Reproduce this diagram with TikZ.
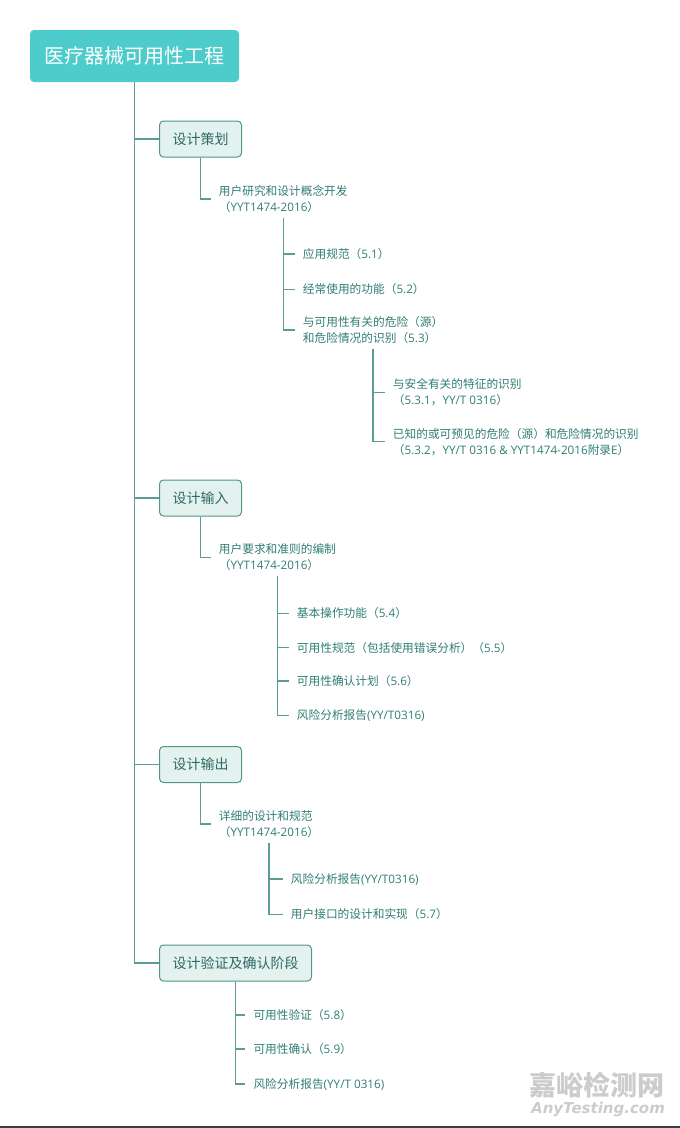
\documentclass[tikz,border=0pt]{standalone}
\usepackage{fontspec}
\setmainfont{Noto Sans CJK SC}
\newfontfamily\latinfont{Open Sans}
\newfontfamily\markfont{DejaVu Sans}
\newcommand{\lat}[1]{{\latinfont #1}}
\definecolor{rootfill}{HTML}{4ECBCB}
\definecolor{stagefill}{HTML}{E3F1EF}
\definecolor{stageline}{HTML}{4F968D}
\definecolor{stagetext}{HTML}{2D6A64}
\definecolor{itemtext}{HTML}{2F7D74}
\definecolor{linkcol}{HTML}{5C9C94}
\definecolor{barcol}{HTML}{3E3E3E}

\begin{document}
\begin{tikzpicture}[x=1pt, y=-1pt,
    link/.style={draw=linkcol, line width=1.3pt},
    rootbox/.style={fill=rootfill, rounded corners=4pt, minimum width=209pt, minimum height=52pt, text=white, font=\fontsize{20}{24}\selectfont},
    stagebox/.style={anchor=west, draw=stageline, line width=1pt, fill=stagefill, rounded corners=4pt, minimum height=36pt, inner xsep=13pt, text=stagetext, font=\fontsize{14}{17}\selectfont},
    item/.style={anchor=west, inner xsep=8pt, inner ysep=5pt, align=left, text=itemtext, font=\fontsize{11.7}{16}\selectfont}]
\useasboundingbox (0,0) rectangle (680,1128);

\node[rootbox] (root) at (134.5, 56) {医疗器械可用性工程};

\node[stagebox] (plan) at (159, 139) {设计策划};
\node[stagebox] (input) at (159, 498) {设计输入};
\node[stagebox] (output) at (159, 764.5) {设计输出};
\node[stagebox] (verify) at (159, 963) {设计验证及确认阶段};

% 设计策划
\node[item] (research) at (210.7, 199) {用户研究和设计概念开发\\（\lat{YYT1474-2016}）};
\node[item] (spec) at (294.7, 254) {应用规范（\lat{5.1}）};
\node[item] (func) at (294.7, 289.3) {经常使用的功能（\lat{5.2}）};
\node[item] (hazard) at (294.7, 330) {与可用性有关的危险（源）\\和危险情况的识别（\lat{5.3}）};
\node[item] (safety) at (384.7, 392.5) {与安全有关的特征的识别\\（\lat{5.3.1}，\lat{YY/T 0316}）};
\node[item] (known) at (384.7, 441.7) {已知的或可预见的危险（源）和危险情况的识别\\（\lat{5.3.2}，\lat{YY/T 0316 \& YYT1474-2016}附录\lat{E}）};

% 设计输入
\node[item] (needs) at (210.7, 557.5) {用户要求和准则的编制\\（\lat{YYT1474-2016}）};
\node[item] (basic) at (288.7, 613.3) {基本操作功能（\lat{5.4}）};
\node[item] (usespec) at (288.7, 647.7) {可用性规范（包括使用错误分析）（\lat{5.5}）};
\node[item] (valplan) at (288.7, 681) {可用性确认计划（\lat{5.6}）};
\node[item] (riskin) at (288.7, 715.7) {风险分析报告\lat{(YY/T0316)}};

% 设计输出
\node[item] (detail) at (210.7, 824) {详细的设计和规范\\（\lat{YYT1474-2016}）};
\node[item] (riskout) at (282.7, 879) {风险分析报告\lat{(YY/T0316)}};
\node[item] (ui) at (282.7, 914.3) {用户接口的设计和实现（\lat{5.7}）};

% 设计验证及确认阶段
\node[item] (verif) at (245.3, 1015) {可用性验证（\lat{5.8}）};
\node[item] (valid) at (245.3, 1049) {可用性确认（\lat{5.9}）};
\node[item] (riskver) at (245.3, 1084) {风险分析报告\lat{(YY/T 0316)}};

\draw[link] (root.south) |- (plan.west);
\draw[link] (root.south) |- (input.west);
\draw[link] (root.south) |- (output.west);
\draw[link] (root.south) |- (verify.west);

\draw[link] (plan.south) |- (research.west);
\draw[link] (research.south) |- (spec.west);
\draw[link] (research.south) |- (func.west);
\draw[link] (research.south) |- (hazard.west);
\draw[link] (hazard.south) |- (safety.west);
\draw[link] (hazard.south) |- (known.west);

\draw[link] (input.south) |- (needs.west);
\draw[link] (needs.south) |- (basic.west);
\draw[link] (needs.south) |- (usespec.west);
\draw[link] (needs.south) |- (valplan.west);
\draw[link] (needs.south) |- (riskin.west);

\draw[link] (output.south) |- (detail.west);
\draw[link] (detail.south) |- (riskout.west);
\draw[link] (detail.south) |- (ui.west);

\draw[link] (verify.south) |- (verif.west);
\draw[link] (verify.south) |- (valid.west);
\draw[link] (verify.south) |- (riskver.west);

% watermark
\node[text=black!20, font=\fontsize{27}{30}\selectfont\bfseries, inner sep=0pt] (mark) at (597, 1085) {嘉峪检测网};
\node[text=black!20, font=\markfont\fontsize{15}{18}\selectfont\bfseries\itshape, inner sep=0pt] (site) at (598, 1109.5) {AnyTesting.com};

\fill[barcol] (0,1126.3) rectangle (680,1128);
\end{tikzpicture}
\end{document}
